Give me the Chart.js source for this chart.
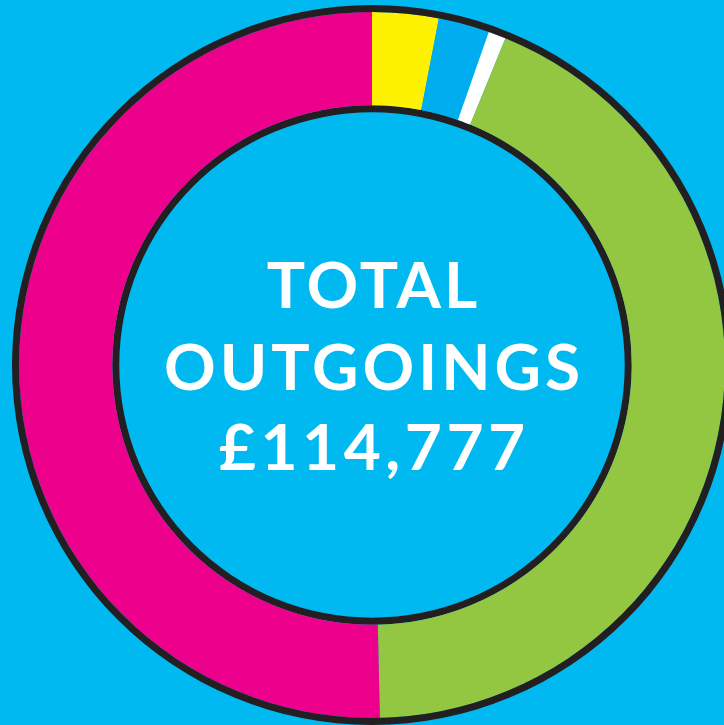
<!DOCTYPE html>
<html>
<head>
<meta charset="utf-8">
<script src="https://cdn.jsdelivr.net/npm/chart.js@4"></script>
<style>
    html, body {
        margin: 0;
        padding: 0;
        background: #00b9f1;
        overflow: hidden;
        width: 724px;
        height: 725px;
    }
    #wrap {
        position: absolute;
        left: 0;
        top: 0;
    }
</style>
</head>
<body>
<div id="wrap"><canvas id="outgoings-chart" width="744" height="730"></canvas></div>
<script>
const categories = ['Category 1', 'Category 2', 'Category 3', 'Category 4', 'Category 5'];
const amounts = [3480, 2680, 920, 49900, 57797];
const sliceColors = ['#fff200', '#00aeef', '#ffffff', '#93c641', '#ec008c'];
const centreLines = ['TOTAL', 'OUTGOINGS', '£114,777'];

// White label in the hole
const centreText = {
    id: 'centreText',
    afterDraw(chart) {
        const ctx = chart.ctx;
        const meta = chart.getDatasetMeta(1).data[0];
        const x = meta.x;
        const y = meta.y;
        const offsets = [-57, 25, 105];
        const spacing = [3, 4, 4.5];
        ctx.save();
        ctx.fillStyle = '#ffffff';
        ctx.textAlign = 'center';
        ctx.textBaseline = 'alphabetic';
        ctx.font = 'bold 64px Lato';
        centreLines.forEach((line, i) => {
            ctx.letterSpacing = spacing[i] + 'px';
            ctx.fillText(line, x + spacing[i] / 2, y + offsets[i]);
        });
        ctx.restore();
    }
};

const ctx = document.getElementById('outgoings-chart');
new Chart(ctx, {
    type: 'doughnut',
    data: {
        labels: categories,
        datasets: [
            {
                // outer black rim
                data: [1],
                backgroundColor: ['#231f20'],
                borderWidth: 0,
                weight: 7
            },
            {
                data: amounts,
                backgroundColor: sliceColors,
                borderWidth: 0,
                weight: 93
            },
            {
                // inner black rim
                data: [1],
                backgroundColor: ['#231f20'],
                borderWidth: 0,
                weight: 7
            }
        ]
    },
    options: {
        responsive: false,
        animation: false,
        cutout: '70.2%',
        layout: {
            padding: { top: 5, bottom: 5, left: 0, right: 0 }
        },
        plugins: {
            legend: { display: false },
            tooltip: { enabled: false }
        }
    },
    plugins: [centreText]
});
</script>
</body>
</html>
